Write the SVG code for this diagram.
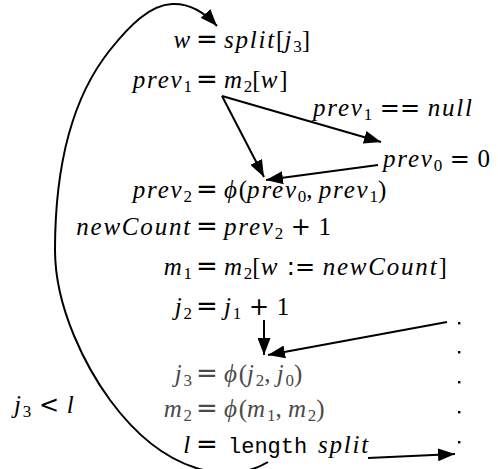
<svg xmlns="http://www.w3.org/2000/svg" width="498" height="469" viewBox="0 0 498 469">
<style>
text{font-size:25px;fill:#000}
.m{font-style:italic;letter-spacing:1.8px}
.u{font-style:normal;letter-spacing:0}
.sub{font-style:normal;font-size:17px;letter-spacing:0}
.op{font-style:normal;font-size:24px;letter-spacing:0}
.eq{font-style:normal;font-size:26px;letter-spacing:0}
.tt{font-style:normal;font-size:22px;letter-spacing:0}
.g text{fill:#4a4a4a}
.e{fill:none;stroke:#000;stroke-width:2}
</style>
<defs>
<marker id="ah" markerUnits="userSpaceOnUse" markerWidth="18" markerHeight="13" refX="17" refY="6.5" orient="auto">
<path d="M0,0 L17,6.5 L0,13 z" fill="#000"/>
</marker>
</defs>
<g id="connectors">
<path class="e" d="M268,462 C230,485 165,475 110,400 C88,370 55,310 55,250 C55,170 70,100 110,50 C130,25 150,5 172,4 C192,3 206,14 217,26" marker-end="url(#ah)"/>
<line class="e" x1="222" y1="96" x2="264" y2="177" marker-end="url(#ah)"/>
<line class="e" x1="222" y1="96" x2="381" y2="142" marker-end="url(#ah)"/>
<line class="e" x1="378" y1="165" x2="266" y2="180" marker-end="url(#ah)"/>
<line class="e" x1="264" y1="320" x2="264" y2="355" marker-end="url(#ah)"/>
<line class="e" x1="447" y1="322" x2="268" y2="355" marker-end="url(#ah)"/>
<line class="e" x1="368" y1="458" x2="455" y2="454" marker-end="url(#ah)"/>
</g>
<g font-family="Liberation Serif, DejaVu Serif, serif">
<g id="edge-label-null"><text class="m" x="313" y="116">prev<tspan class="sub" dy="4">1</tspan><tspan class="op" font-family="DejaVu Sans, sans-serif" dy="-4"> == </tspan>null</text></g>
<g id="edge-label-loop"><text class="m" x="14" y="413">j<tspan class="sub" dy="4">3</tspan><tspan class="op" font-family="DejaVu Sans, sans-serif" dy="-4"> &lt; </tspan>l</text></g>
<g id="n-w"><text class="m" x="192" y="48" text-anchor="end">w</text><text class="eq" font-family="DejaVu Sans, sans-serif" x="207" y="48" text-anchor="middle">=</text><text class="m" x="224" y="48">split<tspan class="u">[</tspan>j<tspan class="sub" dy="4">3</tspan><tspan class="u" dy="-4">]</tspan></text></g>
<g id="n-prev1"><text class="m" x="192" y="88" text-anchor="end">prev<tspan class="sub" dy="4">1</tspan></text><text class="eq" font-family="DejaVu Sans, sans-serif" x="207" y="88" text-anchor="middle">=</text><text class="m" x="224" y="88">m<tspan class="sub" dy="4">2</tspan><tspan class="u" dy="-4">[</tspan>w<tspan class="u">]</tspan></text></g>
<g id="n-prev0"><text class="m" x="383" y="167">prev<tspan class="sub" dy="4">0</tspan><tspan class="op" font-family="DejaVu Sans, sans-serif" dy="-4"> = </tspan><tspan class="u">0</tspan></text></g>
<g id="n-prev2"><text class="m" x="192" y="198" text-anchor="end">prev<tspan class="sub" dy="4">2</tspan></text><text class="eq" font-family="DejaVu Sans, sans-serif" x="207" y="198" text-anchor="middle">=</text><text class="m" x="224" y="198">ϕ<tspan class="u">(</tspan>prev<tspan class="sub" dy="4">0</tspan><tspan class="u" dy="-4">, </tspan>prev<tspan class="sub" dy="4">1</tspan><tspan class="u" dy="-4">)</tspan></text></g>
<g id="n-newCount"><text class="m" x="192" y="235" text-anchor="end">newCount</text><text class="eq" font-family="DejaVu Sans, sans-serif" x="207" y="235" text-anchor="middle">=</text><text class="m" x="224" y="235">prev<tspan class="sub" dy="4">2</tspan><tspan class="op" font-family="DejaVu Sans, sans-serif" dy="-4"> + </tspan><tspan class="u">1</tspan></text></g>
<g id="n-m1"><text class="m" x="192" y="275" text-anchor="end">m<tspan class="sub" dy="4">1</tspan></text><text class="eq" font-family="DejaVu Sans, sans-serif" x="207" y="275" text-anchor="middle">=</text><text class="m" x="224" y="275">m<tspan class="sub" dy="4">2</tspan><tspan class="u" dy="-4">[</tspan>w<tspan class="op" font-family="DejaVu Sans, sans-serif"> := </tspan>newCount<tspan class="u">]</tspan></text></g>
<g id="n-j2"><text class="m" x="192" y="315" text-anchor="end">j<tspan class="sub" dy="4">2</tspan></text><text class="eq" font-family="DejaVu Sans, sans-serif" x="207" y="315" text-anchor="middle">=</text><text class="m" x="224" y="315">j<tspan class="sub" dy="4">1</tspan><tspan class="op" font-family="DejaVu Sans, sans-serif" dy="-4"> + </tspan><tspan class="u">1</tspan></text></g>
<g id="n-j3" class="g"><text class="m" x="192" y="382" text-anchor="end">j<tspan class="sub" dy="4">3</tspan></text><text class="eq" font-family="DejaVu Sans, sans-serif" x="207" y="382" text-anchor="middle">=</text><text class="m" x="224" y="382">ϕ<tspan class="u">(</tspan>j<tspan class="sub" dy="4">2</tspan><tspan class="u" dy="-4">, </tspan>j<tspan class="sub" dy="4">0</tspan><tspan class="u" dy="-4">)</tspan></text></g>
<g id="n-m2" class="g"><text class="m" x="192" y="417" text-anchor="end">m<tspan class="sub" dy="4">2</tspan></text><text class="eq" font-family="DejaVu Sans, sans-serif" x="207" y="417" text-anchor="middle">=</text><text class="m" x="224" y="417">ϕ<tspan class="u">(</tspan>m<tspan class="sub" dy="4">1</tspan><tspan class="u" dy="-4">, </tspan>m<tspan class="sub" dy="4">2</tspan><tspan class="u" dy="-4">)</tspan></text></g>
<g id="n-l"><text class="m" x="192" y="453" text-anchor="end">l</text><text class="eq" font-family="DejaVu Sans, sans-serif" x="207" y="453" text-anchor="middle">=</text><text x="228" y="453"><tspan class="tt" font-family="Liberation Mono, monospace">length</tspan><tspan class="m" x="318">split</tspan></text></g>
</g>
<g id="n-dots">
<rect x="458" y="322" width="2.4" height="2.4"/>
<rect x="458" y="351" width="2.4" height="2.4"/>
<rect x="458" y="381" width="2.4" height="2.4"/>
<rect x="458" y="411" width="2.4" height="2.4"/>
<rect x="458" y="441" width="2.4" height="2.4"/>
</g>
</svg>
